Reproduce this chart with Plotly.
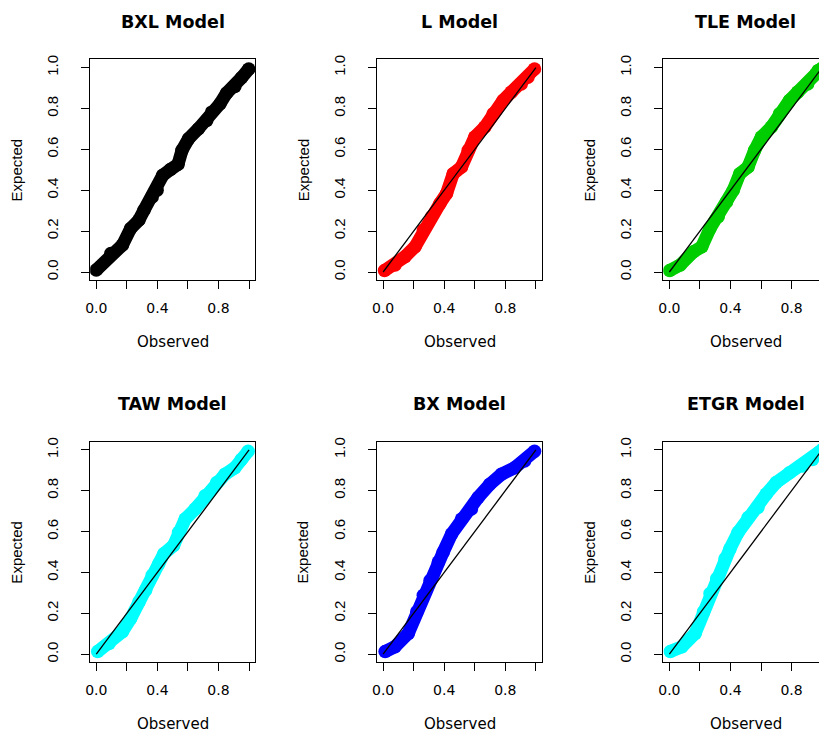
import plotly.graph_objects as go

# ---------------- data ----------------
titles = ["BXL Model", "L Model", "TLE Model", "TAW Model", "BX Model", "ETGR Model"]
colors = ["#000000", "#FF0000", "#00CD00", "#00FFFF", "#0000FF", "#00FFFF"]

bxl_obs = [0.0, 0.095, 0.171, 0.225, 0.279, 0.312, 0.366, 0.398, 0.435, 0.485, 0.535,
           0.561, 0.604, 0.669, 0.723, 0.755, 0.810, 0.853, 0.907, 0.950, 0.998]
bxl_exp = [0.010, 0.091, 0.132, 0.213, 0.254, 0.302, 0.367, 0.400, 0.473, 0.501, 0.527,
           0.595, 0.652, 0.701, 0.741, 0.782, 0.823, 0.875, 0.907, 0.950, 0.993]

l_obs = [0.009, 0.078, 0.143, 0.209, 0.263, 0.317, 0.372, 0.415, 0.459, 0.513, 0.557,
         0.600, 0.665, 0.720, 0.785, 0.839, 0.904, 0.948, 0.991]
l_exp = [0.007, 0.034, 0.075, 0.124, 0.205, 0.270, 0.335, 0.384, 0.481, 0.514, 0.595,
         0.660, 0.709, 0.774, 0.839, 0.880, 0.920, 0.953, 0.993]

tle_obs = [0.002, 0.071, 0.158, 0.212, 0.266, 0.320, 0.374, 0.418, 0.461, 0.515, 0.558,
           0.602, 0.667, 0.721, 0.786, 0.840, 0.905, 0.959, 0.974, 1.0]
tle_exp = [0.007, 0.034, 0.099, 0.124, 0.213, 0.270, 0.343, 0.400, 0.481, 0.514, 0.595,
           0.660, 0.709, 0.774, 0.839, 0.880, 0.920, 0.969, 0.985, 0.997]

taw_obs = [0.009, 0.084, 0.171, 0.225, 0.279, 0.323, 0.366, 0.409, 0.442, 0.506, 0.539,
           0.582, 0.647, 0.712, 0.788, 0.842, 0.907, 0.950, 0.994]
taw_exp = [0.013, 0.053, 0.110, 0.175, 0.256, 0.313, 0.386, 0.442, 0.491, 0.532, 0.596,
           0.661, 0.710, 0.775, 0.840, 0.880, 0.912, 0.953, 0.993]

bx_obs = [0.013, 0.078, 0.165, 0.220, 0.263, 0.307, 0.361, 0.393, 0.448, 0.513, 0.578,
          0.622, 0.698, 0.774, 0.861, 0.926, 0.991]
bx_exp = [0.013, 0.037, 0.102, 0.207, 0.288, 0.361, 0.451, 0.499, 0.588, 0.661, 0.710,
          0.767, 0.831, 0.880, 0.912, 0.945, 0.993]

etgr_obs = [0.006, 0.082, 0.169, 0.223, 0.266, 0.310, 0.364, 0.396, 0.450, 0.515, 0.580,
            0.634, 0.699, 0.786, 0.872, 0.937, 0.976, 1.0]
etgr_exp = [0.013, 0.037, 0.102, 0.207, 0.297, 0.370, 0.467, 0.515, 0.596, 0.669, 0.718,
            0.783, 0.840, 0.888, 0.921, 0.953, 0.985, 1.0]

ref_line = [0.0, 1.0]
tick_vals = [0.0, 0.2, 0.4, 0.6, 0.8, 1.0]
x_tick_text = ["0.0", "", "0.4", "", "0.8", ""]
y_tick_text = ["0.0", "0.2", "0.4", "0.6", "0.8", "1.0"]
x_label = "Observed"
y_label = "Expected"

series_obs = [bxl_obs, l_obs, tle_obs, taw_obs, bx_obs, etgr_obs]
series_exp = [bxl_exp, l_exp, tle_exp, taw_exp, bx_exp, etgr_exp]

# ---------------- layout geometry (pixels) ----------------
W, H = 819, 734
col_left = [85.7, 374.3, 662.3]
box_w = 166.0
row_top = [55.7, 440.0]
box_h = 222.0
px_per_unit = box_w / 1.08

fig = go.Figure()
annotations = []
layout_axes = {}

for i in range(6):
    r, c = divmod(i, 3)
    left = col_left[c]
    right = min(left + box_w, W)
    top = row_top[r]
    bottom = top + box_h
    xr_end = -0.04 + (right - left) / px_per_unit
    n = i + 1
    xa = "x" if n == 1 else f"x{n}"
    ya = "y" if n == 1 else f"y{n}"
    xkey = "xaxis" if n == 1 else f"xaxis{n}"
    ykey = "yaxis" if n == 1 else f"yaxis{n}"

    fig.add_trace(go.Scatter(
        x=series_obs[i], y=series_exp[i], mode="lines+markers",
        line=dict(color=colors[i], width=13),
        marker=dict(color=colors[i], size=13.5, line=dict(width=0)),
        xaxis=xa, yaxis=ya, showlegend=False, cliponaxis=True))
    fig.add_trace(go.Scatter(
        x=ref_line, y=ref_line, mode="lines",
        line=dict(color="black", width=1.3),
        xaxis=xa, yaxis=ya, showlegend=False))

    layout_axes[xkey] = dict(
        domain=[left / W, right / W], anchor=ya, range=[-0.04, xr_end],
        showgrid=False, zeroline=False, showline=True, linecolor="black",
        linewidth=1, mirror=True, ticks="outside", ticklen=8, tickwidth=1,
        tickcolor="black", tickvals=tick_vals, ticktext=x_tick_text,
        tickfont=dict(family="DejaVu Sans", size=14, color="black"),
        ticklabelstandoff=7, fixedrange=True)
    layout_axes[ykey] = dict(
        domain=[1 - bottom / H, 1 - top / H], anchor=xa, range=[-0.04, 1.04],
        showgrid=False, zeroline=False, showline=True, linecolor="black",
        linewidth=1, mirror=(c != 2), ticks="outside", ticklen=8, tickwidth=1,
        tickcolor="black", tickvals=tick_vals, ticktext=y_tick_text,
        tickangle=-90,
        tickfont=dict(family="Liberation Sans", size=15, color="black"),
        ticklabelstandoff=17, fixedrange=True)

    cx = (left + left + box_w) / 2
    annotations.append(dict(
        text="<b>" + titles[i] + "</b>", x=cx / W, y=1 - (top - 38) / H,
        xref="paper", yref="paper", xanchor="center", yanchor="middle",
        showarrow=False, font=dict(family="DejaVu Sans", size=17.5, color="black")))
    annotations.append(dict(
        text=x_label, x=cx / W, y=1 - (bottom + 62) / H,
        xref="paper", yref="paper", xanchor="center", yanchor="middle",
        showarrow=False, font=dict(family="DejaVu Sans", size=15, color="black")))
    annotations.append(dict(
        text=y_label, x=(left - 74) / W, y=1 - ((top + bottom) / 2) / H,
        xref="paper", yref="paper", xanchor="center", yanchor="middle",
        textangle=-90, showarrow=False,
        font=dict(family="Liberation Sans", size=15, color="black")))

fig.update_layout(
    width=W, height=H, margin=dict(l=0, r=0, t=0, b=0),
    paper_bgcolor="white", plot_bgcolor="white",
    annotations=annotations, **layout_axes)

fig.write_html("out.html", config={"displayModeBar": False},
               post_script="document.body.style.margin='0';document.body.style.overflow='hidden';")
